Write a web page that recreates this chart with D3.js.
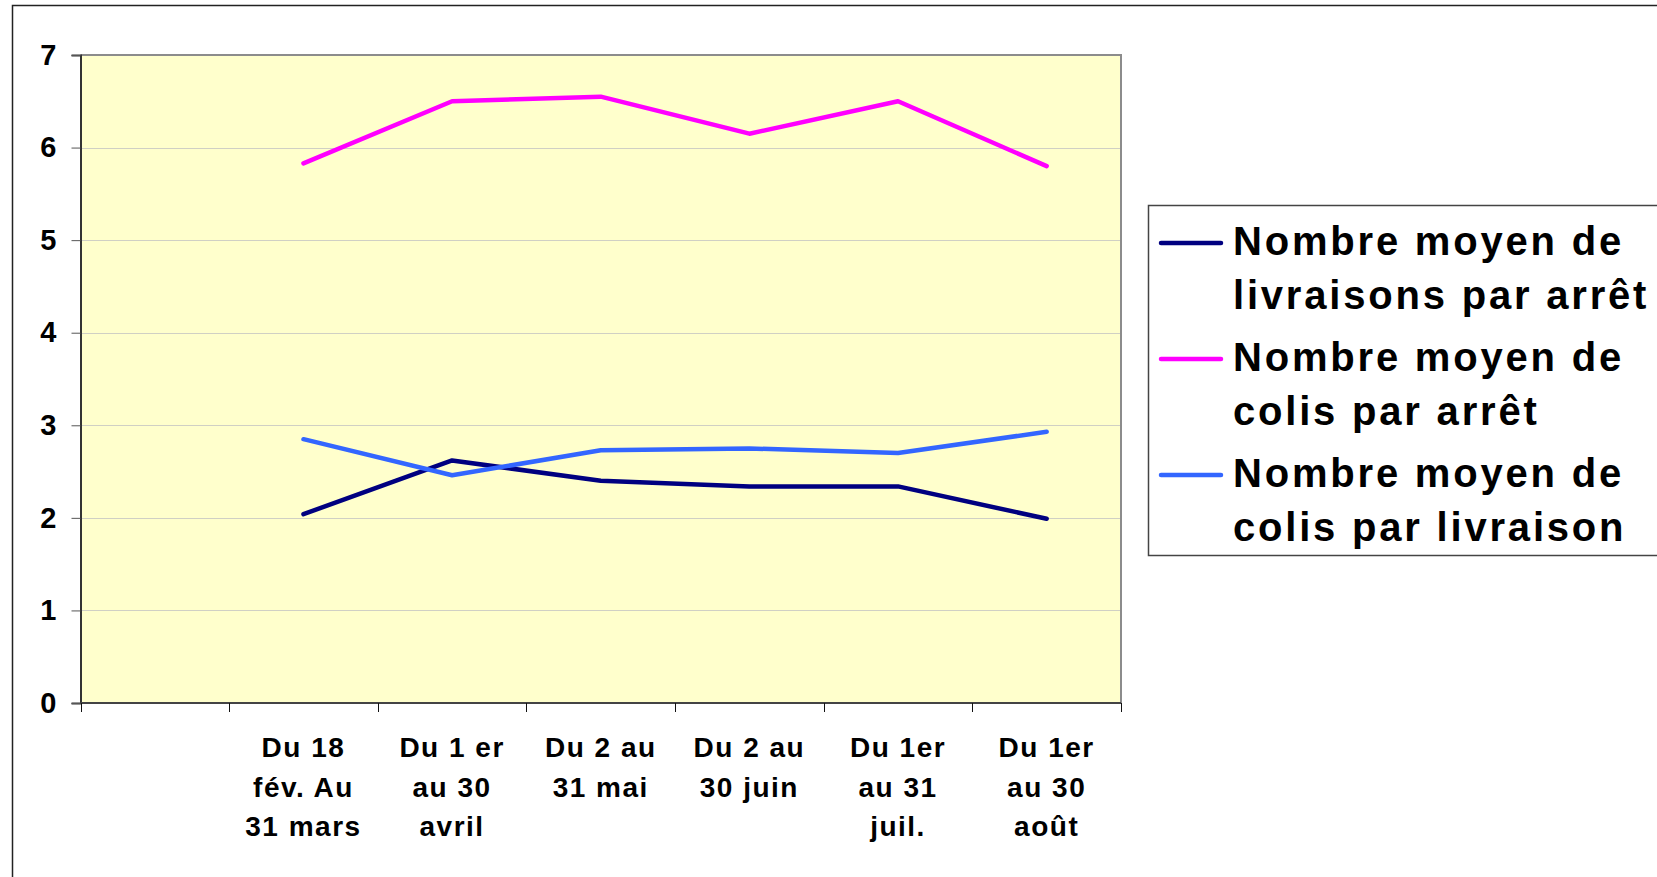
<!DOCTYPE html>
<html>
<head>
<meta charset="utf-8">
<script src="https://cdn.jsdelivr.net/npm/d3@7"></script>
<style>
	body { margin: 0; background: #fff; }
	svg { display: block; font-family: "Liberation Sans", Arial, sans-serif; font-weight: bold; }
</style>
</head>
<body>
<svg id="chart"></svg>
<script>

// categories (first slot is empty in the original sheet)
const categories = ["", "Du 18\nfév. Au\n31 mars", "Du 1 er\nau 30\navril", "Du 2 au\n31 mai", "Du 2 au\n30 juin", "Du 1er\nau 31\njuil.", "Du 1er\nau 30\naoût"];

const livraisonsParArret = [null, 2.04, 2.62, 2.40, 2.34, 2.34, 1.99];
const colisParArret = [null, 5.83, 6.50, 6.55, 6.15, 6.50, 5.80];
const colisParLivraison = [null, 2.85, 2.46, 2.73, 2.75, 2.70, 2.93];

const seriesNames = ["Nombre moyen de\nlivraisons par arrêt", "Nombre moyen de\ncolis par arrêt", "Nombre moyen de\ncolis par livraison"];
const seriesColors = ["#000080", "#ff00ff", "#3366ff"];
const yTicks = [0, 1, 2, 3, 4, 5, 6, 7];

const series = [livraisonsParArret, colisParArret, colisParLivraison];

var width = 1657;
var height = 877;

var plot = {left: 80.5, top: 55, right: 1121, bottom: 703};

var svg = d3.select("#chart")
	.attr("width", width)
	.attr("height", height);

// chart area border (goes off the picture on right and bottom)
svg.append("rect")
	.attr("x", 12.5).attr("y", 5.5)
	.attr("width", width).attr("height", height)
	.attr("fill", "#fff")
	.attr("stroke", "#222")
	.attr("stroke-width", 1.5);

var x = d3.scaleBand()
	.domain(d3.range(categories.length))
	.range([plot.left, plot.right])
	.padding(0);

var y = d3.scaleLinear()
	.domain([0, 7])
	.range([plot.bottom, plot.top]);

// plot background
svg.append("rect")
	.attr("x", plot.left).attr("y", plot.top)
	.attr("width", plot.right - plot.left)
	.attr("height", plot.bottom - plot.top)
	.attr("fill", "#ffffcc");

// gridlines
svg.append("g")
	.selectAll("line")
	.data(yTicks.filter(d => d > 0 && d < 7))
	.enter()
	.append("line")
	.attr("x1", plot.left).attr("x2", plot.right)
	.attr("y1", d => Math.round(y(d)) + 0.5)
	.attr("y2", d => Math.round(y(d)) + 0.5)
	.attr("stroke", "#d0d0c4")
	.attr("stroke-width", 1);

// plot border top / right
svg.append("path")
	.attr("d", "M" + plot.left + "," + plot.top + "H" + plot.right + "V" + plot.bottom)
	.attr("fill", "none")
	.attr("stroke", "#8c8c8c")
	.attr("stroke-width", 2);

// y axis
var yAxis = svg.append("g")
	.attr("transform", "translate(" + plot.left + ",0)")
	.call(d3.axisLeft(y).tickValues(yTicks).tickFormat(d3.format("d")).tickSize(9).tickPadding(15))
	.attr("font-size", 29)
	.attr("font-family", "'Liberation Sans', Arial, sans-serif")
	.attr("font-weight", "bold");

yAxis.select(".domain").attr("stroke", "#333").attr("stroke-width", 2);
yAxis.selectAll(".tick line").attr("stroke", "#555");
yAxis.selectAll(".tick text").attr("fill", "#000");

// x axis: line plus ticks on the band edges
svg.append("line")
	.attr("x1", plot.left).attr("x2", plot.right)
	.attr("y1", plot.bottom).attr("y2", plot.bottom)
	.attr("stroke", "#444")
	.attr("stroke-width", 2);

var edges = x.domain().map(d => x(d)).concat([plot.right]);
svg.append("g")
	.selectAll("line")
	.data(edges)
	.enter()
	.append("line")
	.attr("x1", d => Math.round(d) + 0.5)
	.attr("x2", d => Math.round(d) + 0.5)
	.attr("y1", plot.bottom)
	.attr("y2", plot.bottom + 9)
	.attr("stroke", "#111")
	.attr("stroke-width", 1);

var xLabels = svg.append("g")
	.selectAll("text")
	.data(categories)
	.enter()
	.append("text")
	.attr("text-anchor", "middle")
	.attr("font-size", 28)
	.attr("letter-spacing", 1.5)
	.attr("fill", "#000");

xLabels.each(function(d, i) {
	var t = d3.select(this);
	d.split("\n").forEach(function(line, j) {
		t.append("tspan")
			.attr("x", x(i) + x.bandwidth() / 2)
			.attr("y", plot.bottom + 54 + j * 39.5)
			.text(line);
	});
});

// series lines
var line = d3.line()
	.defined(d => d != null)
	.x((d, i) => x(i) + x.bandwidth() / 2)
	.y(d => y(d));

svg.append("g")
	.selectAll("path")
	.data(series)
	.enter()
	.append("path")
	.attr("d", line)
	.attr("fill", "none")
	.attr("stroke", (d, i) => seriesColors[i])
	.attr("stroke-width", 4.5)
	.attr("stroke-linejoin", "round")
	.attr("stroke-linecap", "round");

// legend
var legend = svg.append("g");

legend.append("rect")
	.attr("x", 1148.5).attr("y", 205.5)
	.attr("width", 600).attr("height", 350)
	.attr("fill", "#fff")
	.attr("stroke", "#444")
	.attr("stroke-width", 1.5);

var entries = legend.selectAll("g.entry")
	.data(seriesNames)
	.enter()
	.append("g")
	.attr("class", "entry")
	.attr("transform", (d, i) => "translate(0," + (255 + i * 116) + ")");

entries.append("line")
	.attr("x1", 1161).attr("x2", 1221)
	.attr("y1", -12).attr("y2", -12)
	.attr("stroke", (d, i) => seriesColors[i])
	.attr("stroke-width", 4.5)
	.attr("stroke-linecap", "round");

entries.append("text")
	.attr("font-size", 40)
	.attr("letter-spacing", 2.8)
	.attr("fill", "#000")
	.each(function(d) {
		var t = d3.select(this);
		d.split("\n").forEach(function(l, j) {
			t.append("tspan")
				.attr("x", 1233)
				.attr("y", j * 54)
				.text(l);
		});
	});

</script>
</body>
</html>
